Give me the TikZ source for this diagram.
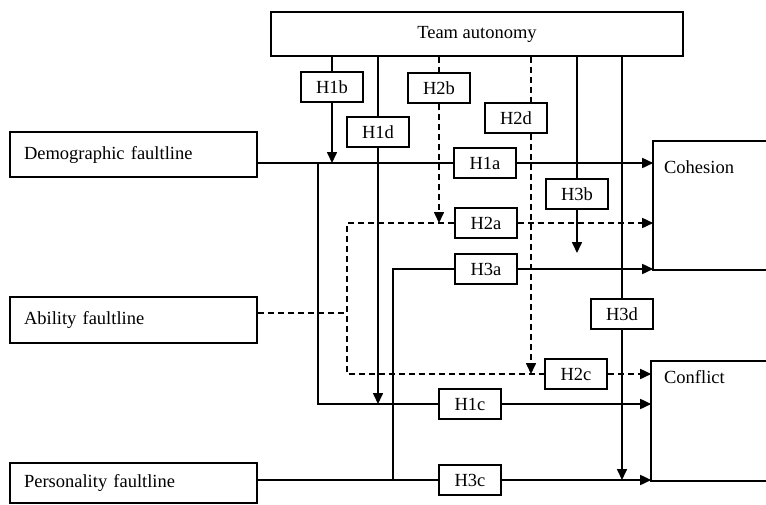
\documentclass[tikz,border=0pt]{standalone}
\usepackage{fontspec}
\setmainfont{Liberation Serif}
\usetikzlibrary{arrows.meta,positioning}

\begin{document}
\begin{tikzpicture}[>={Triangle[length=11pt,width=10pt]},x=1pt,y=-1pt,
  font=\fontsize{18.5}{22}\selectfont,line width=1.6pt,
  hyp/.style={draw,line width=1.9pt,minimum width=62pt,minimum height=30pt,inner sep=0pt},
  facbox/.style={draw,line width=1.9pt,minimum width=247pt,minimum height=45pt,text width=219pt,align=left,inner xsep=14pt},
  outbox/.style={inner sep=0pt},
  dsh/.style={dash pattern=on 6pt off 4pt}]
\useasboundingbox (0,0) rectangle (766,504);

% moderator and faultlines
\node[draw,line width=1.9pt,minimum width=412pt,minimum height=44pt] (ta) at (477,34) {Team autonomy\hspace{68pt}};
\node[facbox] (demo) at (133.5,154.5) {Demographic faultline};
\node[facbox,minimum height=46pt] (abil) at (133.5,320) {Ability faultline};
\node[facbox,minimum height=40pt] (pers) at (133.5,483) {Personality faultline};

% outcomes (cut at the right edge)
\node[outbox,minimum width=112pt,minimum height=127pt] (coh) at (710,205.5) {};
\node[outbox,minimum width=114pt,minimum height=118pt] (conf) at (709,421) {};
\draw[line width=1.9pt] (coh.north east) -- (coh.north west) -- (coh.south west) -- (coh.south east);
\draw[line width=1.9pt] (conf.north east) -- (conf.north west) -- (conf.south west) -- (conf.south east);
\node[anchor=west] (cohtxt) at (660,167) {Cohesion};
\node[anchor=west] (conftxt) at (660,377) {Conflict};

% hypotheses
\node[hyp] (h1b) at (332,87) {H1b};
\node[hyp] (h2b) at (439,88) {H2b};
\node[hyp] (h1d) at (378,132) {H1d};
\node[hyp] (h2d) at (516,118) {H2d};
\node[hyp] (h1a) at (485,163) {H1a};
\node[hyp] (h3b) at (577,194) {H3b};
\node[hyp] (h2a) at (486,223) {H2a};
\node[hyp] (h3a) at (486,269) {H3a};
\node[hyp] (h3d) at (622,314) {H3d};
\node[hyp] (h2c) at (576,374) {H2c};
\node[hyp] (h1c) at (470,404) {H1c};
\node[hyp] (h3c) at (470,480) {H3c};

% demographic faultline
\coordinate (j1) at (318,163);
\draw (demo.east |- h1a) -- (h1a.west);
\draw[->] (h1a.east) -- (coh.west |- h1a);
\draw (j1) |- (h1c.west);
\draw[->] (h1c.east) -- (conf.west |- h1c);

% ability faultline
\coordinate (j2) at (347,313);
\draw[dsh] (abil.east |- j2) -- (j2);
\draw[dsh] (h2a.west) -| (j2 |- h2c) -- (h2c.west);
\draw[dsh,->] (h2a.east) -- (coh.west |- h2a);
\draw[dsh,->] (h2c.east) -- (conf.west |- h2c);

% personality faultline
\coordinate (j3) at (393,480);
\draw (pers.east |- h3c) -- (h3c.west);
\draw (j3) |- (h3a.west);
\draw[->] (h3a.east) -- (coh.west |- h3a);
\draw[->] (h3c.east) -- (conf.west |- h3c);

% moderation by team autonomy
\draw (ta.south -| h1b) -- (h1b);
\draw[->] (h1b) -- (h1b |- h1a);
\draw (ta.south -| h1d) -- (h1d);
\draw[->] (h1d) -- (h1d |- h1c);
\draw[dsh] (ta.south -| h2b) -- (h2b);
\draw[dsh,->] (h2b) -- (h2b |- h2a);
\coordinate (x2d) at (531,0);
\draw[dsh] (ta.south -| x2d) -- (x2d |- h2d.north);
\draw[dsh,->] (x2d |- h2d.south) -- (x2d |- h2c);
\coordinate (h3bend) at (577,253);
\draw (ta.south -| h3b) -- (h3b);
\draw[->] (h3b) -- (h3bend);
\draw (ta.south -| h3d) -- (h3d);
\draw[->] (h3d) -- (h3d |- h3c);
\end{tikzpicture}
\end{document}
